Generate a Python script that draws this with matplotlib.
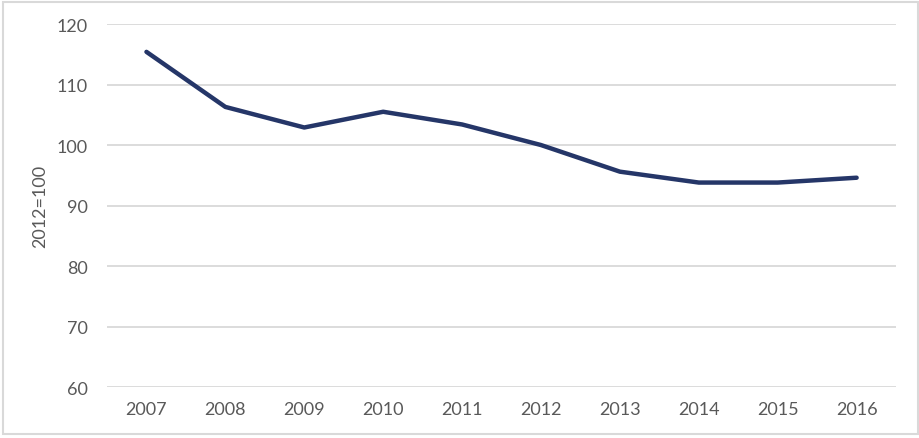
import matplotlib.pyplot as plt
from matplotlib.patches import Rectangle

# Index values, 2012=100
years = ['2007', '2008', '2009', '2010', '2011', '2012', '2013', '2014', '2015', '2016']
index = [115.4, 106.3, 102.9, 105.5, 103.4, 100.0, 95.6, 93.8, 93.8, 94.6]

plt.rcParams['font.family'] = ['Lato', 'DejaVu Sans']
text_col = '#595959'
grid_col = '#d9d9d9'

fig = plt.figure(figsize=(9.2, 4.39), dpi=100)
ax = fig.add_axes([0.1163, 0.116, 0.8577, 0.827])

x = range(len(years))
ax.plot(x, index, color='#253668', lw=3.2, solid_capstyle='round', zorder=3)

ax.set_xlim(-0.5, len(years) - 0.5)
ax.set_ylim(60, 120)
ax.set_yticks(range(60, 121, 10))
ax.set_xticks(list(x))
ax.set_xticklabels(years)

ax.grid(axis='y', color=grid_col, lw=1.3)
ax.set_axisbelow(True)
for s in ax.spines.values():
    s.set_visible(False)
ax.tick_params(length=0, labelsize=13, colors=text_col)
ax.tick_params(axis='x', pad=10)
ax.tick_params(axis='y', pad=14)
ax.set_ylabel('2012=100', fontsize=13, color=text_col, labelpad=6)

# light frame round the whole chart
fig.patches.append(Rectangle((0.0033, 0.008), 0.9945, 0.985, transform=fig.transFigure,
                             fill=False, edgecolor=grid_col, lw=1.5))

fig.savefig('out.png', dpi=100)
